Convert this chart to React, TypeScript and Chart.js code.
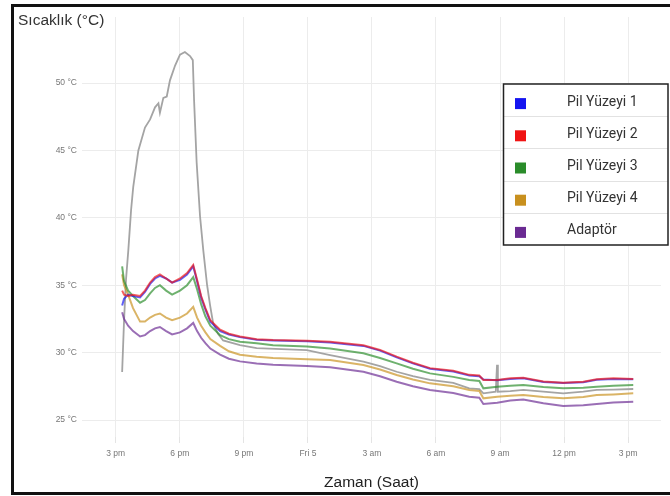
import { useEffect, useRef } from 'react';
import { Chart, registerables } from 'chart.js';

Chart.register(...registerables);

const seriesLabels = ['Pil Yüzeyi 1', 'Pil Yüzeyi 2', 'Pil Yüzeyi 3', 'Pil Yüzeyi 4', 'Adaptör'];
const seriesColors = ['#1414f0', '#f01414', '#2a8c2a', '#c8901e', '#6a2a92'];
const otherColor = '#a4a4a4';

// hours after 3 pm (Thursday)
const hours = [0.30, 0.39, 0.58, 0.81, 1.14, 1.37, 1.61, 1.84, 2.07, 2.36, 2.64, 3.01, 3.34, 3.63, 3.81, 4.0, 4.2, 4.43, 4.89, 5.3, 5.82, 6.6, 7.37, 8.96, 10.04, 11.6, 12.38, 13.16, 13.92, 14.72, 15.81, 16.56, 17.03, 17.22, 17.87, 18.48, 19.09, 20.03, 20.96, 21.90, 22.53, 23.31, 24.24];

const pil1 = [33.5, 34.0, 34.3, 34.2, 34.1, 34.5, 35.1, 35.5, 35.7, 35.5, 35.2, 35.4, 35.8, 36.4, 35.3, 34.1, 33.2, 32.3, 31.6, 31.35, 31.15, 30.95, 30.9, 30.85, 30.75, 30.5, 30.15, 29.65, 29.2, 28.8, 28.6, 28.3, 28.25, 28.0, 27.95, 28.05, 28.1, 27.82, 27.75, 27.8, 27.98, 28.05, 28.02];
const pil2 = [34.6, 34.3, 34.2, 34.3, 34.2, 34.6, 35.2, 35.6, 35.8, 35.5, 35.2, 35.5, 35.9, 36.5, 35.4, 34.2, 33.3, 32.4, 31.7, 31.4, 31.2, 31.0, 30.93, 30.88, 30.8, 30.55, 30.2, 29.7, 29.25, 28.85, 28.65, 28.35, 28.3, 27.97, 27.97, 28.1, 28.14, 27.85, 27.77, 27.84, 28.02, 28.09, 28.05];
const pil3 = [36.4, 35.3, 34.6, 34.2, 33.7, 33.9, 34.4, 34.8, 35.0, 34.6, 34.3, 34.6, 35.0, 35.6, 34.7, 33.6, 32.7, 32.0, 31.3, 31.0, 30.8, 30.7, 30.55, 30.45, 30.3, 29.95, 29.6, 29.2, 28.8, 28.46, 28.2, 27.97, 27.9, 27.35, 27.47, 27.55, 27.6, 27.45, 27.35, 27.4, 27.47, 27.55, 27.6];
const pil4 = [35.8, 35.0, 34.3, 33.3, 32.3, 32.3, 32.6, 32.8, 32.9, 32.6, 32.4, 32.6, 32.9, 33.4, 32.6, 32.0, 31.5, 31.0, 30.5, 30.1, 29.85, 29.7, 29.6, 29.5, 29.45, 29.08, 28.75, 28.34, 28.0, 27.72, 27.5, 27.23, 27.15, 26.61, 26.73, 26.8, 26.85, 26.7, 26.61, 26.7, 26.85, 26.9, 26.98];
const adaptor = [33.0, 32.5, 32.0, 31.6, 31.2, 31.3, 31.6, 31.8, 31.9, 31.6, 31.35, 31.5, 31.8, 32.2, 31.6, 31.1, 30.7, 30.3, 29.85, 29.55, 29.35, 29.2, 29.1, 29.0, 28.91, 28.58, 28.25, 27.84, 27.5, 27.23, 27.0, 26.73, 26.65, 26.19, 26.28, 26.45, 26.53, 26.24, 26.04, 26.1, 26.19, 26.3, 26.36];

const otherHours = [0.30, 0.39, 0.48, 0.59, 0.72, 0.82, 1.06, 1.37, 1.61, 1.84, 2.00, 2.07, 2.23, 2.39, 2.54, 2.78, 3.01, 3.24, 3.48, 3.61, 3.67, 3.79, 3.95, 4.10, 4.28, 4.42, 4.56, 4.79, 5.03, 5.82, 6.60, 8.95, 10.04, 11.6, 12.38, 13.16, 13.92, 14.72, 15.81, 16.56, 17.03, 17.22, 17.80, 17.86, 17.90, 18.48, 19.09, 20.03, 20.96, 21.90, 22.53, 23.31, 24.24];
const otherValues = [28.56, 32.4, 35.4, 37.6, 40.6, 42.3, 45.0, 46.7, 47.3, 48.2, 48.5, 47.8, 48.9, 49.0, 50.2, 51.3, 52.1, 52.3, 52.0, 51.7, 48.7, 44.1, 40.1, 37.6, 35.0, 33.5, 32.2, 31.4, 30.9, 30.56, 30.34, 30.19, 29.82, 29.33, 29.0, 28.58, 28.25, 27.97, 27.75, 27.35, 27.3, 26.98, 27.1, 29.1, 27.1, 27.15, 27.23, 27.1, 26.98, 27.1, 27.23, 27.25, 27.3];

const xTickHours = [0, 3, 6, 9, 12, 15, 18, 21, 24];
const xTickLabels = ['3 pm', '6 pm', '9 pm', 'Fri 5', '3 am', '6 am', '9 am', '12 pm', '3 pm'];
const yTickValues = [25, 30, 35, 40, 45, 50];

const yTitle = 'Sıcaklık (°C)';
const xTitle = 'Zaman (Saat)';

function rgba(hex: string, a: number) {
  const n = parseInt(hex.slice(1), 16);
  return `rgba(${(n >> 16) & 255},${(n >> 8) & 255},${n & 255},${a})`;
}

const topTitlePlugin = {
  id: 'topTitle',
  afterDraw(chart: any) {
    const ctx = chart.ctx;
    ctx.save();
    ctx.font = '15.5px "Liberation Sans", Arial, sans-serif';
    ctx.fillStyle = '#333';
    ctx.textAlign = 'left';
    ctx.textBaseline = 'alphabetic';
    ctx.fillText(yTitle, 18, 25);
    ctx.restore();
  },
};

const boxLegendPlugin = {
  id: 'boxLegend',
  afterDraw(chart: any) {
    const ctx = chart.ctx;
    const items = chart.data.datasets.filter((d: any) => d.label);
    const left = 503.5;
    const top = 84;
    const right = 668;
    const rowH = 32.2;
    const bottom = top + rowH * items.length;
    ctx.save();
    ctx.fillStyle = '#ffffff';
    ctx.fillRect(left, top, right - left, bottom - top);
    ctx.strokeStyle = '#e2e2e2';
    ctx.lineWidth = 1;
    for (let i = 1; i < items.length; i++) {
      const y = Math.round(top + rowH * i) + 0.5;
      ctx.beginPath();
      ctx.moveTo(left, y);
      ctx.lineTo(right, y);
      ctx.stroke();
    }
    ctx.strokeStyle = '#222';
    ctx.lineWidth = 1.5;
    ctx.strokeRect(left, top, right - left, bottom - top);
    ctx.font = '14px Roboto, "Liberation Sans", sans-serif';
    ctx.textAlign = 'left';
    ctx.textBaseline = 'middle';
    items.forEach((d: any, i: number) => {
      const cy = top + rowH * i + rowH / 2 + 2;
      ctx.fillStyle = d.legendColor;
      ctx.fillRect(515, cy - 4, 11, 11);
      ctx.fillStyle = '#333';
      ctx.fillText(d.label, 567, cy);
    });
    ctx.restore();
  },
};

export default function App() {
  const canvasRef = useRef<HTMLCanvasElement | null>(null);

  useEffect(() => {
    const canvas = canvasRef.current;
    if (!canvas) return;
    const seriesValues = [pil1, pil2, pil3, pil4, adaptor];
    const datasets: any[] = seriesValues.map((vals, i) => ({
      label: seriesLabels[i],
      legendColor: seriesColors[i],
      data: hours.map((h, j) => ({ x: h, y: vals[j] })),
      borderColor: rgba(seriesColors[i], 0.68),
      borderWidth: 2,
      pointRadius: 0,
      tension: 0,
      fill: false,
      order: i === 1 ? -1 : i,
    }));
    datasets.push({
      label: '',
      data: otherHours.map((h, j) => ({ x: h, y: otherValues[j] })),
      borderColor: otherColor,
      borderWidth: 1.8,
      pointRadius: 0,
      tension: 0,
      fill: false,
      order: 10,
    });

    const chart = new Chart(canvas, {
      type: 'line',
      data: { datasets },
      plugins: [topTitlePlugin, boxLegendPlugin],
      options: {
        animation: false,
        responsive: false,
        layout: { padding: { left: 0, top: 17, right: 9, bottom: 0 } },
        plugins: {
          legend: { display: false },
          tooltip: { enabled: false },
          title: { display: false },
        },
        scales: {
          x: {
            type: 'linear',
            min: -1.58,
            max: 25.54,
            afterBuildTicks: (s: any) => {
              s.ticks = xTickHours.map((v) => ({ value: v }));
            },
            afterFit: (s: any) => {
              s.height = 59;
            },
            grid: { color: '#ececec', lineWidth: 1, drawTicks: true, tickLength: 6, tickColor: '#e4e4e4' },
            border: { display: false },
            ticks: {
              autoSkip: false,
              maxRotation: 0,
              padding: 6,
              color: '#777',
              font: { size: 8.5, family: '"Liberation Sans", Arial, sans-serif' },
              callback: (_v: any, idx: number) => xTickLabels[idx],
            },
            title: {
              display: true,
              text: xTitle,
              color: '#222',
              font: { size: 15.5, family: '"Liberation Sans", Arial, sans-serif' },
              padding: { top: 0, bottom: 4 },
            },
          },
          y: {
            type: 'linear',
            min: 23.74,
            max: 54.9,
            afterBuildTicks: (s: any) => {
              s.ticks = yTickValues.map((v) => ({ value: v }));
            },
            afterFit: (s: any) => {
              s.width = 82;
            },
            grid: { color: '#ececec', lineWidth: 1, drawTicks: false },
            border: { display: false },
            ticks: {
              padding: 5,
              color: '#777',
              font: { size: 8.5, family: '"Liberation Sans", Arial, sans-serif' },
              callback: (v: any) => `${v} °C`,
            },
          },
        },
      } as any,
    });
    return () => chart.destroy();
  }, []);

  return (
    <div style={{ position: 'fixed', left: 0, top: 0, width: 670, height: 496, overflow: 'hidden', background: '#fff' }}>
      <canvas ref={canvasRef} width={670} height={496} style={{ position: 'absolute', left: 0, top: 0, width: 670, height: 496 }} />
      <div
        style={{
          position: 'absolute',
          left: 11,
          top: 4,
          width: 700,
          height: 485,
          border: '3px solid #111',
          pointerEvents: 'none',
        }}
      />
    </div>
  );
}
